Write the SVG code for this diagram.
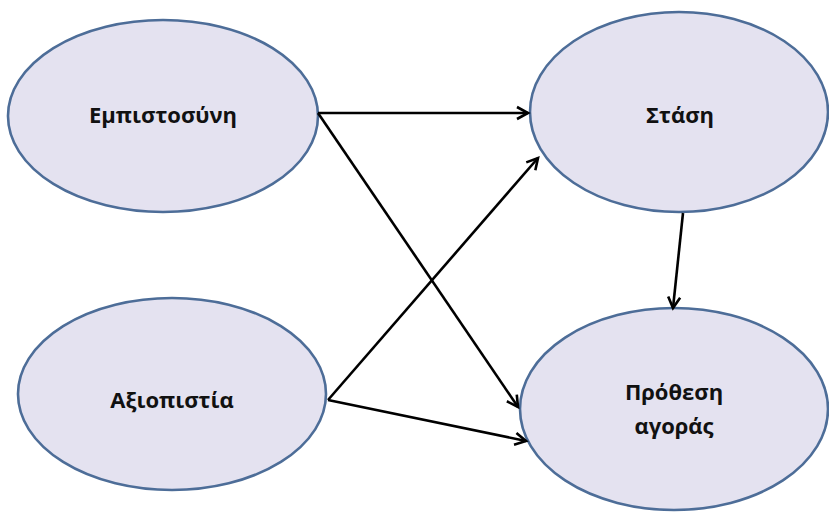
<svg xmlns="http://www.w3.org/2000/svg" width="829" height="512" viewBox="0 0 829 512">
<style>
.node ellipse{fill:#e4e2f0;stroke:#4d6d98;stroke-width:2.6}
.node text{font-family:"Open Sans","DejaVu Sans",sans-serif;font-weight:bold;font-size:22px;fill:#111;text-anchor:middle}
.edges line{stroke:#000;stroke-width:2.6;fill:none}
</style>
<defs>
<marker id="arr" markerUnits="userSpaceOnUse" markerWidth="16" markerHeight="16" refX="13" refY="8" orient="auto" viewBox="0 0 16 16">
<path d="M2,2 L13,8 L2,14" fill="none" stroke="#000" stroke-width="2.6" stroke-linejoin="miter"/>
</marker>
</defs>
<rect width="829" height="512" fill="#fff"/>
<g id="n-empistosyni" class="node"><ellipse cx="163" cy="116" rx="155" ry="96"/><text x="163" y="123">Εμπιστοσύνη</text></g>
<g id="n-stasi" class="node"><ellipse cx="679" cy="112" rx="149" ry="100"/><text x="680" y="123">Στάση</text></g>
<g id="n-prothesi" class="node"><ellipse cx="674" cy="409" rx="154" ry="101"/><text x="674" y="400">Πρόθεση</text><text x="674" y="434">αγοράς</text></g>
<g id="n-axiopistia" class="node"><ellipse cx="172" cy="394" rx="154" ry="96"/><text x="172" y="408">Αξιοπιστία</text></g>
<g id="edges" class="edges">
<line x1="318" y1="113" x2="528" y2="113" marker-end="url(#arr)"/>
<line x1="318" y1="113" x2="518" y2="407" marker-end="url(#arr)"/>
<line x1="328" y1="400" x2="538" y2="158" marker-end="url(#arr)"/>
<line x1="328" y1="400" x2="526" y2="441" marker-end="url(#arr)"/>
<line x1="683" y1="213" x2="673" y2="308" marker-end="url(#arr)"/>
</g>
</svg>
